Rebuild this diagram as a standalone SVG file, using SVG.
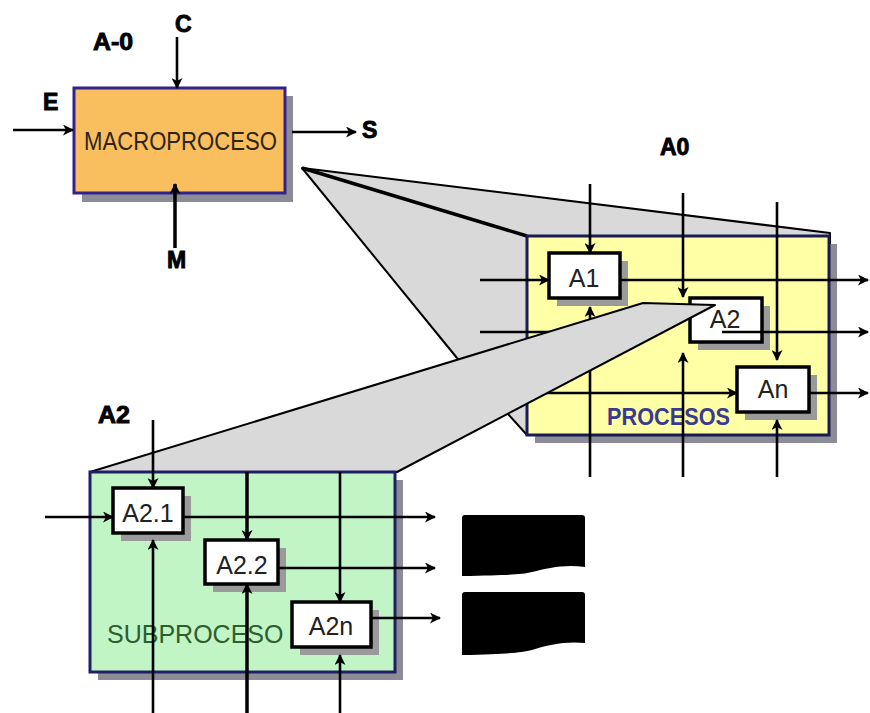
<svg xmlns="http://www.w3.org/2000/svg" width="870" height="713" viewBox="0 0 870 713">
<defs>
<marker id="ah" markerWidth="11" markerHeight="11" refX="10" refY="5.5" orient="auto" markerUnits="userSpaceOnUse">
<path d="M0,0 L11,5.5 L0,11 L3,5.5 z" fill="#000"/>
</marker>
<style>
.bg{fill:#fff}
.wedge{fill:#d9d9d9;stroke:#000;stroke-width:2;stroke-linejoin:round}
.shadow{fill:#8c8c96}
.sshadow{fill:#9a9a9a}
.box{fill:#fff;stroke:#000;stroke-width:3.5}
.lbl{font-family:"Liberation Sans",Arial,sans-serif;font-weight:bold;font-size:23px;fill:#000;stroke:#000;stroke-width:0.9}
.btxt{font-family:"Liberation Sans",Arial,sans-serif;font-size:25px;fill:#222;text-anchor:middle}
.conn line{stroke:#000;stroke-width:2.6;marker-end:url(#ah)}
.conn line.plain{marker-end:none}
.conn line.thick{stroke-width:3.5}
</style>
</defs>
<rect class="bg" x="0" y="0" width="870" height="713"/>

<g id="wedge-a0">
<polygon class="wedge" points="302,168 830,233 830,435 527,435 457,358"/>
<line x1="302" y1="168" x2="527" y2="236" stroke="#000" stroke-width="3.5"/>
</g>

<g id="macroproceso">
<rect class="shadow" x="82" y="96" width="211" height="106"/>
<rect x="74" y="88" width="211" height="105" fill="#f9bf5f" stroke="#33228a" stroke-width="3"/>
<text x="84" y="150" font-family="Liberation Sans, Arial, sans-serif" font-size="25" fill="#2e2418" textLength="193" lengthAdjust="spacingAndGlyphs">MACROPROCESO</text>
</g>

<g id="labels-a-0">
<text class="lbl" x="93" y="50" textLength="40" lengthAdjust="spacingAndGlyphs">A-0</text>
<text class="lbl" x="175" y="32">C</text>
<text class="lbl" x="43" y="110">E</text>
<text class="lbl" x="362" y="138">S</text>
<text class="lbl" x="167" y="268">M</text>
</g>

<g id="connectors-a-0" class="conn">
<line x1="177" y1="37" x2="177" y2="88"/>
<line x1="13" y1="130" x2="73" y2="130"/>
<line x1="292" y1="132" x2="356" y2="132"/>
<line class="thick" x1="175" y1="248" x2="175" y2="184"/>
</g>

<g id="procesos">
<rect class="shadow" x="535" y="244" width="302" height="199"/>
<rect x="527" y="236" width="302" height="199" fill="#ffffa6" stroke="#1a1a55" stroke-width="3"/>
<text x="607" y="425" font-family="Liberation Sans, Arial, sans-serif" font-weight="bold" font-size="24" fill="#3a3a90" textLength="123" lengthAdjust="spacingAndGlyphs">PROCESOS</text>
</g>
<text class="lbl" x="660" y="155">A0</text>

<g id="a1">
<rect class="sshadow" x="557" y="261" width="71" height="45"/>
<rect class="box" x="549" y="253" width="71" height="45"/>
<text class="btxt" x="584" y="287">A1</text>
</g>
<g id="a2">
<rect class="sshadow" x="698" y="306" width="72" height="44"/>
<rect class="box" x="690" y="298" width="72" height="44"/>
<text class="btxt" x="725" y="328">A2</text>
</g>
<g id="an">
<rect class="sshadow" x="745" y="375" width="72" height="45"/>
<rect class="box" x="737" y="367" width="72" height="45"/>
<text class="btxt" x="773" y="398">An</text>
</g>

<g id="connectors-a0" class="conn">
<line x1="590" y1="184" x2="590" y2="253"/>
<line x1="480" y1="280" x2="549" y2="280"/>
<line x1="620" y1="280" x2="868" y2="280"/>
<line x1="590" y1="477" x2="590" y2="307"/>
<line x1="683" y1="193" x2="683" y2="297"/>
<line class="plain" x1="480" y1="332" x2="620" y2="332"/>
<line x1="722" y1="332" x2="868" y2="332"/>
<line x1="683" y1="477" x2="683" y2="353"/>
<line x1="777" y1="202" x2="777" y2="360"/>
<line x1="545" y1="393" x2="737" y2="393"/>
<line x1="809" y1="393" x2="868" y2="393"/>
<line x1="777" y1="477" x2="777" y2="420"/>
</g>

<g id="wedge-a2">
<polygon class="wedge" points="715,305 643,303 90,472 397,472"/>
</g>

<g id="subproceso">
<rect class="shadow" x="98" y="480" width="305" height="200"/>
<rect x="90" y="472" width="305" height="200" fill="#c2f5c6" stroke="#1f1f66" stroke-width="3"/>
<text x="107" y="643" font-family="Liberation Sans, Arial, sans-serif" font-size="25" fill="#2e5e2e">SUBPROCESO</text>
</g>
<text class="lbl" x="98" y="423" font-size="20" textLength="32" lengthAdjust="spacingAndGlyphs">A2</text>

<g id="a2-1">
<rect class="sshadow" x="121" y="496" width="70" height="45"/>
<rect class="box" x="113" y="488" width="70" height="45"/>
<text class="btxt" x="148" y="522">A2.1</text>
</g>
<g id="a2-2">
<rect class="sshadow" x="213" y="548" width="73" height="44"/>
<rect class="box" x="205" y="540" width="73" height="44"/>
<text class="btxt" x="242" y="574">A2.2</text>
</g>
<g id="a2n">
<rect class="sshadow" x="300" y="610" width="79" height="45"/>
<rect class="box" x="292" y="602" width="79" height="45"/>
<text class="btxt" x="331" y="635">A2n</text>
</g>

<g id="connectors-a2" class="conn">
<line x1="153" y1="420" x2="153" y2="488"/>
<line x1="45" y1="517" x2="113" y2="517"/>
<line x1="183" y1="517" x2="435" y2="517"/>
<line x1="153" y1="713" x2="153" y2="540"/>
<line class="thick" x1="247" y1="472" x2="247" y2="540"/>
<line x1="278" y1="568" x2="435" y2="568"/>
<line class="thick" x1="247" y1="713" x2="247" y2="584"/>
<line x1="340" y1="472" x2="340" y2="602"/>
<line x1="371" y1="618" x2="440" y2="618"/>
<line x1="340" y1="713" x2="340" y2="655"/>
</g>

<g id="outputs">
<path d="M462,518 Q462,515 465,515 L582,515 Q585,515 585,518 L585,567 C565,564 548,568 532,572 C520,575 505,575 462,576 Z" fill="#000"/>
<path d="M462,595 Q462,592 465,592 L582,592 Q585,592 585,595 L585,643 C565,641 548,645 532,650 C520,653 505,654 462,655 Z" fill="#000"/>
</g>
</svg>
